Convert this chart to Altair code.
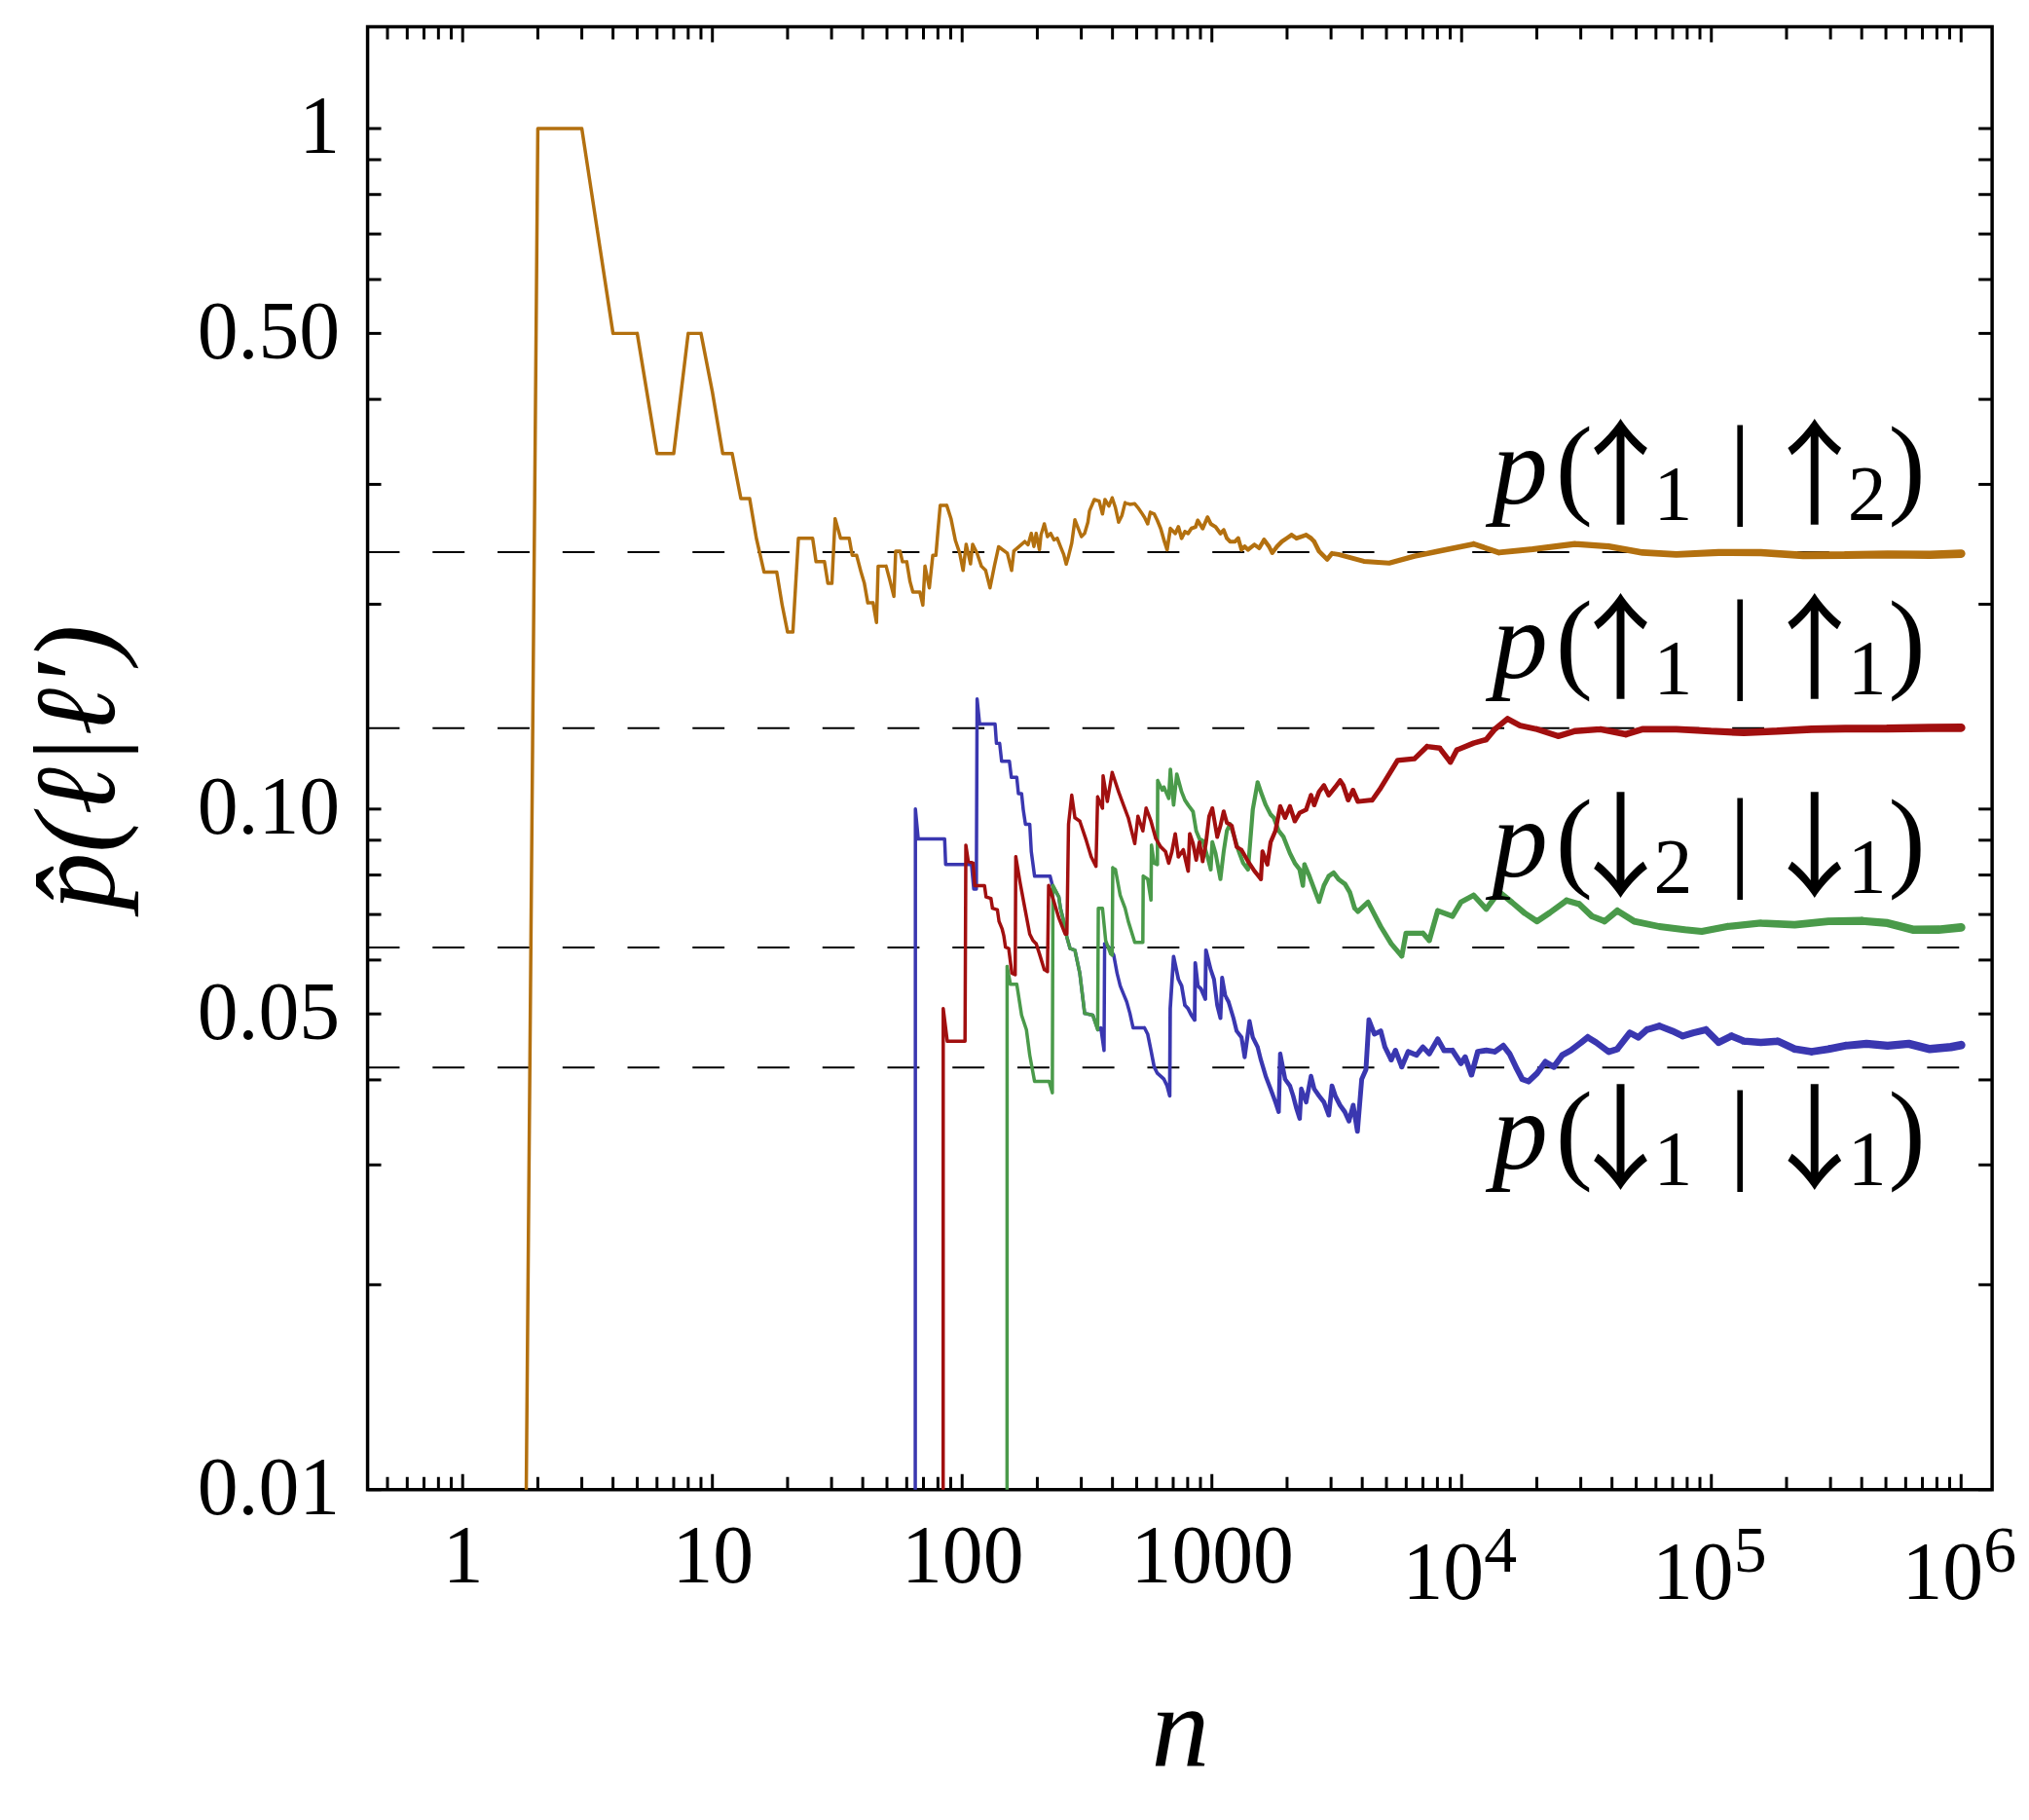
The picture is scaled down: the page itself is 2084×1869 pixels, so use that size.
import altair as alt
import pandas as pd

# ---------------- data: (n, p) ----------------
ORANGE = [(1, 1e-13), (2, 1.0), (3, 1.0), (4, 0.5), (5, 0.5), (6, 0.333), (7, 0.333), (8, 0.5), (9, 0.5),
          (10, 0.41), (11, 0.333), (12, 0.333), (13, 0.286), (14.1, 0.286), (15, 0.25), (16.1, 0.223),
          (18.1, 0.223), (19, 0.2), (20, 0.182), (21, 0.182), (22.1, 0.25), (25.2, 0.25), (26, 0.231),
          (28.1, 0.231), (29, 0.2146), (30.1, 0.2146), (31, 0.267), (32.6, 0.25), (35.3, 0.25), (36.3, 0.236),
          (37.8, 0.236), (39.4, 0.2227), (40.6, 0.2146), (41.9, 0.2009), (44, 0.2009), (45.4, 0.188),
          (46.1, 0.2275), (49.6, 0.2275), (51.2, 0.2178), (53.3, 0.2054), (54.2, 0.2394), (56.4, 0.2394),
          (57.7, 0.2309), (60, 0.2309), (61.8, 0.2162), (63.5, 0.2084), (67.7, 0.2084), (69.6, 0.1994),
          (71, 0.2275), (73.9, 0.2114), (76.3, 0.236), (78.5, 0.236), (80.1, 0.2577), (81.7, 0.2793),
          (86.8, 0.2793), (90.2, 0.2673), (93.9, 0.2484), (97.8, 0.2377), (100.9, 0.2242), (103.8, 0.2449),
          (108, 0.2293), (110.2, 0.2449), (114.7, 0.2377), (119.4, 0.2275), (124.2, 0.2242), (129.3, 0.2114),
          (134.6, 0.2275), (140, 0.2429), (151.7, 0.2377), (157.8, 0.2242), (161.1, 0.2394), (178.3, 0.2472),
          (183.7, 0.2446), (189.2, 0.2541), (193.8, 0.2432), (197.9, 0.2541), (203.9, 0.2405), (206.9, 0.2528),
          (213.3, 0.2625), (219.6, 0.2514), (226.2, 0.2541), (233.2, 0.2487), (240.3, 0.25), (247.5, 0.2432),
          (255.1, 0.2367), (261.1, 0.2291), (266.7, 0.2353), (274.7, 0.2459), (282.9, 0.2661), (291.6, 0.2584),
          (300.4, 0.2514), (309.4, 0.2541), (318.9, 0.264), (323.6, 0.2743), (338.2, 0.285), (353.7, 0.2835),
          (364.7, 0.2714), (373.3, 0.285), (386.9, 0.2788), (398.9, 0.2866), (410.9, 0.2773), (423.2, 0.264),
          (436.2, 0.2699), (449.2, 0.2819), (469.7, 0.2804), (491.2, 0.281), (505.9, 0.2773), (521.6, 0.2729),
          (537.2, 0.2684), (553.3, 0.2625), (566.8, 0.2729), (587.4, 0.2714), (605, 0.2655), (623.7, 0.2584),
          (642.5, 0.2487), (661.7, 0.2405), (682.1, 0.2584), (713.3, 0.2541), (734.5, 0.2598), (756.5, 0.25),
          (779.8, 0.2556), (803.3, 0.2541), (827.4, 0.2584), (860.6, 0.2598), (878.4, 0.2655), (918.6, 0.2584),
          (960.5, 0.2684), (989.3, 0.2625), (1035, 0.2598), (1082, 0.2541), (1115, 0.257), (1148, 0.25),
          (1183, 0.2472), (1237, 0.2472), (1275, 0.25), (1314, 0.2405), (1353, 0.2432), (1395, 0.2405),
          (1480, 0.2446), (1547, 0.2418), (1618, 0.2487), (1692, 0.2432), (1745, 0.2379), (1824, 0.2432),
          (1907, 0.2472), (1994, 0.25), (2085, 0.2528), (2181, 0.25), (2281, 0.2514), (2385, 0.2528),
          (2494, 0.25), (2569, 0.2472), (2686, 0.2392), (2809, 0.2353), (2894, 0.2328), (3026, 0.2375),
          (3213, 0.2367), (4057, 0.2312), (5128, 0.2299), (6477, 0.2353), (8175, 0.2395), (11170, 0.2452),
          (14110, 0.2382), (19270, 0.2409), (28440, 0.2452), (38820, 0.2432), (53040, 0.2382), (72400, 0.2367),
          (106900, 0.2382), (157800, 0.2382), (233100, 0.2359), (343900, 0.2361), (507700, 0.2367),
          (749900, 0.2364), (1000000, 0.2373)]

RED = [(83, 1e-13), (84, 0.0509), (87.2, 0.0456), (102.7, 0.0456), (103.5, 0.0885), (105.8, 0.0838),
       (110.7, 0.0833), (112.3, 0.0772), (122.9, 0.0772), (124.7, 0.0743), (130.4, 0.0739), (132.3, 0.0715),
       (138.4, 0.0711), (140.5, 0.0684), (144.7, 0.0666), (146.9, 0.0651), (149.1, 0.0627), (153.6, 0.0624),
       (158.2, 0.0574), (163.1, 0.0571), (164, 0.0851), (170.6, 0.078), (178.3, 0.0715), (186.5, 0.0655),
       (192.1, 0.0641), (197.9, 0.0634), (203.9, 0.0613), (213.3, 0.0581), (219.6, 0.0577), (222, 0.0772),
       (233.2, 0.0731), (243.8, 0.0692), (258.8, 0.0655), (262.7, 0.0655), (266.7, 0.095), (274.7, 0.1048),
       (282.9, 0.0971), (295.9, 0.096), (314.2, 0.0899), (328.5, 0.0851), (343.5, 0.0824), (348.8, 0.1042),
       (364.7, 0.1003), (366.8, 0.1119), (381.4, 0.1026), (398.9, 0.1132), (423.2, 0.106), (442.5, 0.1014),
       (462.7, 0.0971), (491.2, 0.089), (505.9, 0.0976), (529.1, 0.0929), (545.4, 0.1003), (570.3, 0.096),
       (596.4, 0.0905), (623.7, 0.088), (652.2, 0.0866), (671.7, 0.0833), (691.8, 0.0866), (713.3, 0.0919),
       (734.5, 0.0851), (768.1, 0.0871), (803.3, 0.0811), (815.6, 0.0919), (840.2, 0.089), (865.4, 0.0842),
       (891.9, 0.0894), (918.6, 0.0838), (946.2, 0.089), (975.2, 0.0976), (1004, 0.1003), (1050.5, 0.091),
       (1082, 0.0945), (1115, 0.0992), (1148, 0.0955), (1201, 0.0945), (1256, 0.088), (1314, 0.0871),
       (1395, 0.0838), (1480, 0.0811), (1571, 0.0789), (1595, 0.0866), (1668, 0.0829), (1718, 0.0894),
       (1797, 0.0929), (1878, 0.1009), (1964, 0.0971), (2054, 0.1009), (2148, 0.096), (2246, 0.0987),
       (2385, 0.0998), (2494, 0.1048), (2569, 0.1014), (2686, 0.106), (2809, 0.1083), (2938, 0.1048),
       (3119, 0.1077), (3262, 0.1101), (3359, 0.1083), (3513, 0.1031), (3673, 0.1066), (3842, 0.1026),
       (4387, 0.1031), (4743, 0.1074), (5541, 0.1179), (6477, 0.1186), (7280, 0.1236), (8175, 0.1229),
       (9016, 0.1172), (9563, 0.1221), (11170, 0.125), (12550, 0.1265), (13570, 0.131), (15250, 0.1357),
       (17150, 0.1326), (20040, 0.131), (24350, 0.128), (28440, 0.1302), (35930, 0.131), (45400, 0.1288),
       (53040, 0.131), (72400, 0.131), (98920, 0.1302), (135000, 0.1295), (184500, 0.1302), (251900, 0.131),
       (343900, 0.1313), (507700, 0.1313), (749900, 0.1316), (1000000, 0.1317)]

GREEN = [(150, 1e-13), (151.4, 0.0587), (156, 0.0553), (165.5, 0.0553), (173, 0.0498), (180.9, 0.0474),
         (186.5, 0.0435), (195, 0.0398), (223, 0.0398), (229.7, 0.0383), (231, 0.0772), (243.8, 0.0743),
         (247.5, 0.0715), (255.1, 0.0684), (262.7, 0.0648), (270.5, 0.0624), (282.9, 0.062), (295.9, 0.0574),
         (309.4, 0.0501), (333.5, 0.0498), (348.8, 0.0474), (351, 0.0715), (364.7, 0.0715), (375.6, 0.0641),
         (392.9, 0.0613), (398.9, 0.061), (401, 0.082), (410.9, 0.0815), (429.5, 0.0747), (449.2, 0.0715),
         (462.7, 0.0684), (491.2, 0.0637), (529.1, 0.0637), (531, 0.0797), (553.3, 0.0789), (570.3, 0.0735),
         (573, 0.0885), (587.4, 0.0833), (605, 0.0829), (607, 0.1101), (632.8, 0.1066), (642.5, 0.1077),
         (671.7, 0.1037), (682.1, 0.1144), (702.6, 0.1014), (723.6, 0.1125), (756.5, 0.106), (779.8, 0.1031),
         (803.3, 0.1014), (840.2, 0.0992), (865.4, 0.0929), (891.9, 0.0904), (918.6, 0.0899), (960.5, 0.0851),
         (989.3, 0.0815), (1004, 0.0894), (1035, 0.0861), (1082, 0.0789), (1115, 0.0866), (1148, 0.0929),
         (1183, 0.095), (1220, 0.0919), (1275, 0.0871), (1334, 0.0833), (1395, 0.0815), (1458, 0.0998),
         (1525, 0.1095), (1571, 0.106), (1643, 0.1014), (1718, 0.0982), (1770, 0.0971), (1851, 0.0929),
         (1935, 0.091), (2054, 0.0861), (2148, 0.0833), (2246, 0.0815), (2314, 0.0772), (2349, 0.0829),
         (2457, 0.0797), (2569, 0.0763), (2686, 0.0731), (2809, 0.0772), (2938, 0.0797), (3072, 0.0806),
         (3213, 0.0789), (3411, 0.0776), (3566, 0.0755), (3730, 0.0715), (3842, 0.0707), (4219, 0.073),
         (4743, 0.0672), (5225, 0.0634), (5760, 0.0608), (5990, 0.0657), (7000, 0.0657), (7421, 0.0641),
         (8025, 0.0709), (9194, 0.0696), (9938, 0.073), (11170, 0.0747), (12550, 0.0713), (14110, 0.0756),
         (15860, 0.073), (17820, 0.0704), (20040, 0.0684), (22520, 0.0704), (26320, 0.0734), (29580, 0.0725),
         (33230, 0.0696), (37360, 0.0684), (42010, 0.0709), (49100, 0.0684), (61960, 0.0672), (78260, 0.0665),
         (91540, 0.0661), (115600, 0.0672), (157800, 0.068), (215600, 0.0676), (294300, 0.0684),
         (402000, 0.0685), (507700, 0.068), (641200, 0.0665), (810800, 0.0665), (1000000, 0.067)]

BLUE = [(64, 1e-13), (65, 0.1), (66.7, 0.0904), (85.1, 0.0904), (85.9, 0.0829), (109, 0.0829), (111.3, 0.0763),
        (114, 0.0763), (114.8, 0.1451), (117.5, 0.1333), (135.5, 0.1333), (137.2, 0.1249), (141.3, 0.1249),
        (143.9, 0.1176), (154.6, 0.1176), (157.4, 0.1113), (165.5, 0.1113), (168, 0.1054), (173, 0.1054),
        (175.7, 0.0998), (179.3, 0.095), (186.5, 0.095), (189.2, 0.0866), (195, 0.0797), (225, 0.0797),
        (230, 0.0772), (243.8, 0.0743), (247.5, 0.0715), (255.1, 0.0684), (262.7, 0.0648), (270.5, 0.0624),
        (282.9, 0.062), (295.9, 0.0574), (309.4, 0.0501), (333.5, 0.0498), (350, 0.0474), (359.2, 0.0477),
        (370, 0.0442), (372, 0.0634), (386.9, 0.0627), (404.6, 0.061), (417.2, 0.0574), (429.5, 0.055),
        (442.5, 0.0535), (456, 0.0521), (469.7, 0.0501), (483.8, 0.0477), (537.2, 0.0477), (553.3, 0.0467),
        (570.3, 0.0442), (587.4, 0.0418), (605, 0.0409), (623.7, 0.0405), (642.5, 0.0401), (661.7, 0.0392),
        (677.9, 0.0379), (681, 0.0509), (702.6, 0.0607), (734.5, 0.0562), (756.5, 0.055), (779.8, 0.0515),
        (803.3, 0.0509), (827.4, 0.0498), (852.9, 0.049), (858, 0.0594), (878.4, 0.055), (904.7, 0.0544),
        (940.9, 0.0526), (947, 0.062), (989.3, 0.0581), (1020, 0.0562), (1050, 0.0515), (1082, 0.0493),
        (1099, 0.0565), (1131, 0.0532), (1166, 0.0521), (1220, 0.0493), (1256, 0.0472), (1314, 0.0462),
        (1353, 0.0432), (1415, 0.0488), (1458, 0.0462), (1525, 0.0447), (1571, 0.0428), (1643, 0.0405),
        (1718, 0.0388), (1797, 0.0371), (1851, 0.0359), (1878, 0.0437), (1964, 0.0401), (2054, 0.0392),
        (2116, 0.0379), (2181, 0.0363), (2246, 0.0351), (2281, 0.0388), (2385, 0.0371), (2494, 0.0405),
        (2569, 0.0388), (2686, 0.0379), (2809, 0.0371), (2938, 0.0355), (3026, 0.0392), (3119, 0.0379),
        (3262, 0.0367), (3405, 0.0359), (3540, 0.0348), (3680, 0.0367), (3827, 0.0336), (3981, 0.0401),
        (4138, 0.0414), (4254, 0.049), (4473, 0.0467), (4743, 0.0472), (4929, 0.0447), (5225, 0.0428),
        (5434, 0.0442), (5760, 0.0418), (6109, 0.044), (6604, 0.0435), (7000, 0.0447), (7421, 0.0437),
        (8025, 0.0459), (8505, 0.0442), (9194, 0.0442), (9938, 0.0423), (10330, 0.0432), (10950, 0.0407),
        (11610, 0.044), (12550, 0.0442), (13570, 0.044), (14680, 0.0449), (15550, 0.0437), (16480, 0.0418),
        (17480, 0.0401), (18530, 0.0398), (20040, 0.0409), (21650, 0.0425), (23400, 0.0418), (25300, 0.0435),
        (27350, 0.0442), (30150, 0.0454), (31980, 0.0462), (34560, 0.0454), (38820, 0.044), (42010, 0.0444),
        (47180, 0.0469), (51000, 0.0462), (55120, 0.0474), (61960, 0.048), (69670, 0.0472), (76810, 0.0464),
        (84700, 0.0469), (95130, 0.0474), (106900, 0.0454), (120200, 0.0464), (135000, 0.0456),
        (157800, 0.0454), (184500, 0.0456), (215600, 0.0444), (251900, 0.044), (294300, 0.0444),
        (343900, 0.0449), (417900, 0.0452), (507700, 0.0449), (617100, 0.0452), (749900, 0.0444),
        (910500, 0.0447), (1000000, 0.045)]

SERIES_COLORS = {"blue": "#3A37B0", "green": "#4A9A4A", "red": "#A10F0F", "orange": "#B3700F"}
DRAW_ORDER = [("blue", BLUE), ("green", GREEN), ("red", RED), ("orange", ORANGE)]

REF_LEVELS = [0.2385, 0.1315, 0.0626, 0.0417]

LABEL_N = 13080
LABEL_P = [0.281, 0.156, 0.0795, 0.0296]
LABEL_ARROW = ["↑", "↑", "↓", "↓"]
LABEL_SUB_A = ["1", "1", "2", "1"]
LABEL_SUB_B = ["2", "1", "1", "1"]

X_LABEL_VALUES = [1, 10, 100, 1000]
X_EXP_VALUES = [1e4, 1e5, 1e6]
X_EXP_TEXT = ["4", "5", "6"]
Y_LABEL_VALUES = [0.01, 0.05, 0.1, 0.5, 1]

X_MAJOR_TICKS = [10.0 ** e for e in range(0, 7)]
X_MINOR_TICKS = [k * 10.0 ** e for e in range(-1, 6) for k in range(2, 10) if 0.42 < k * 10.0 ** e < 1.3e6]
Y_TICKS = [k * 10.0 ** e for e in (-2, -1) for k in range(1, 10)] + [1.0]

# ---------------- styling ----------------
W, H = 1675, 1508
FONT = "Liberation Serif"
ARROW_FONT = "Noto Sans CJK JP"

xscale = alt.Scale(type="log", domain=[0.4163, 1.331e6], nice=False)
yscale = alt.Scale(type="log", domain=[0.01, 1.411], nice=False)

xaxis = alt.Axis(values=X_LABEL_VALUES, format="d", ticks=False, tickSize=0, domain=False, grid=False,
                 labelFont=FONT, labelFontSize=84, labelColor="black", labelPadding=95,
                 labelBaseline="alphabetic", labelFlush=False, labelOverlap=False,
                 title="n", titleFont=FONT, titleFontStyle="italic", titleFontWeight="normal",
                 titleFontSize=120, titleColor="black", titleX=W / 2, titleY=284,
                 titleBaseline="alphabetic", titleAlign="center")
yaxis = alt.Axis(values=Y_LABEL_VALUES,
                 labelExpr="datum.value >= 1 ? '1' : format(datum.value, '.2f')",
                 ticks=False, tickSize=0, domain=False, grid=False,
                 labelFont=FONT, labelFontSize=84, labelColor="black", labelPadding=29,
                 labelFlush=False, labelOverlap=False,
                 title="p̂(ℓ|ℓ′)", titleFont=FONT, titleFontStyle="italic", titleFontWeight="normal",
                 titleFontSize=118, titleColor="black", titleX=-262, titleY=763, titleAngle=270,
                 titleBaseline="alphabetic", titleAlign="center")

X = lambda f: alt.X(f, scale=xscale, axis=xaxis)
Y = lambda f: alt.Y(f, scale=yscale, axis=yaxis)

layers = []

# dashed reference levels
layers.append(
    alt.Chart(pd.DataFrame({"p": REF_LEVELS})).mark_rule(color="black", strokeWidth=2, strokeDash=[33, 34])
    .encode(y=Y("p:Q"), x=alt.value(0), x2=alt.value(W))
)

# series
for name, pts in DRAW_ORDER:
    df = pd.DataFrame(pts, columns=["n", "p"])
    df["i"] = range(len(df))
    layers.append(
        alt.Chart(df).transform_calculate(
            w="max(3.5, min(9, 3.5 + 1.6 * (log(datum.n) / LN10 - 2.7)))"
        ).mark_trail(color=SERIES_COLORS[name], clip=True).encode(
            x=X("n:Q"), y=Y("p:Q"),
            size=alt.Size("w:Q", scale=None, legend=None),
            order=alt.Order("i:Q"),
        )
    )

# inward ticks on all four sides
xmaj = pd.DataFrame({"t": X_MAJOR_TICKS})
xmin = pd.DataFrame({"t": X_MINOR_TICKS})
ytk = pd.DataFrame({"t": Y_TICKS})
tick = dict(color="black", strokeWidth=3)
for d, L in ((xmaj, 16), (xmin, 13)):
    layers.append(alt.Chart(d).mark_rule(**tick).encode(x=X("t:Q"), y=alt.value(H), y2=alt.value(H - L)))
    layers.append(alt.Chart(d).mark_rule(**tick).encode(x=X("t:Q"), y=alt.value(0), y2=alt.value(L)))
layers.append(alt.Chart(ytk).mark_rule(**tick).encode(y=Y("t:Q"), x=alt.value(0), x2=alt.value(14)))
layers.append(alt.Chart(ytk).mark_rule(**tick).encode(y=Y("t:Q"), x=alt.value(W), x2=alt.value(W - 14)))

# 10^k labels
exp_df = pd.DataFrame({"t": X_EXP_VALUES, "e": X_EXP_TEXT})
layers.append(alt.Chart(exp_df).mark_text(text="10", font=FONT, fontSize=84, align="center",
                                          baseline="alphabetic", dx=-19, color="black")
              .encode(x=X("t:Q"), y=alt.value(H + 113)))
layers.append(alt.Chart(exp_df).mark_text(font=FONT, fontSize=68, align="left",
                                          baseline="alphabetic", dx=23, color="black")
              .encode(x=X("t:Q"), y=alt.value(H + 85), text="e:N"))

# curve labels p(...)
lab = pd.DataFrame({"n": [LABEL_N] * 4, "p": LABEL_P, "a": LABEL_ARROW, "s1": LABEL_SUB_A, "s2": LABEL_SUB_B})
pieces = [
    (dict(text="p", fontStyle="italic"), None, 30, 0, 115, FONT),
    (dict(text="("), None, 86, 0, 115, FONT),
    ({}, "a", 134, 12, 118, ARROW_FONT),
    ({}, "s1", 188, 17, 80, FONT),
    (dict(text="|"), None, 257, 0, 115, FONT),
    ({}, "a", 334, 12, 118, ARROW_FONT),
    ({}, "s2", 388, 17, 80, FONT),
    (dict(text=")"), None, 429, 0, 115, FONT),
]
for extra, field, dx, dy, fs, fnt in pieces:
    enc = dict(x=X("n:Q"), y=Y("p:Q"))
    if field:
        enc["text"] = alt.Text(f"{field}:N")
    layers.append(alt.Chart(lab).mark_text(font=fnt, fontSize=fs, align="center", baseline="alphabetic",
                                           dx=dx, dy=dy, color="black", **extra).encode(**enc))

chart = alt.layer(*layers).properties(
    width=W, height=H,
    autosize=alt.AutoSizeParams(type="none"),
    padding={"left": 371, "top": 16, "right": 30, "bottom": 330},
).configure_view(stroke="black", strokeWidth=3.5)

chart.save("out.html", embed_options={"renderer": "svg", "actions": False})
